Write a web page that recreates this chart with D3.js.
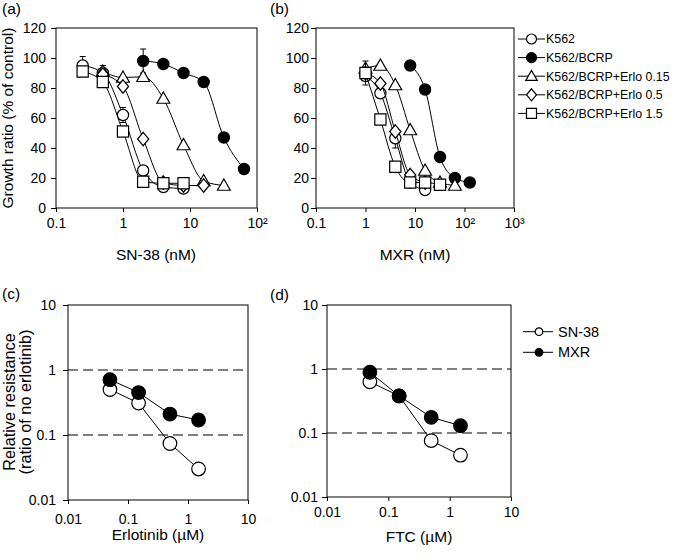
<!DOCTYPE html>
<html><head><meta charset="utf-8">
<script src="https://cdn.jsdelivr.net/npm/d3@7"></script>
<style>
body{margin:0;background:#fff}
text{font-family:"Liberation Sans",Arial,sans-serif;fill:#000}
</style></head>
<body><svg id="chart" width="675" height="560"></svg>
<script>
// ---------- DATA ----------
// Panel (a): SN-38 (nM)
const aTickValues = [0.1, 1, 10, 100];
const aTickLabels = ["0.1", "1", "10", "10²"];
const aK562X = [0.25, 0.5, 1, 2, 4, 8];
const aK562Y = [95, 90, 62, 25, 14, 13];
const aK562Err = [6, 0, 5, 0, 0, 0];
const aBcrpX = [2, 4, 8, 16, 32, 64];
const aBcrpY = [98, 96, 90, 84, 47, 26];
const aBcrpErr = [8, 0, 0, 0, 0, 0];
const aE015X = [0.5, 1, 2, 4, 8, 16, 32];
const aE015Y = [91, 87, 87.5, 73, 42, 18, 15];
const aE015Err = [4, 0, 0, 0, 0, 0, 0];
const aE05X = [0.5, 1, 2, 4, 8, 16];
const aE05Y = [89, 81, 46, 17, 15, 15];
const aE15X = [0.25, 0.5, 1, 2, 4, 8];
const aE15Y = [91, 84, 51, 17.5, 16.5, 16.5];

// Panel (b): MXR (nM)
const bTickValues = [0.1, 1, 10, 100, 1000];
const bTickLabels = ["0.1", "1", "10", "10²", "10³"];
const bK562X = [1, 2, 4, 8, 16];
const bK562Y = [88, 76.5, 46.5, 17, 12];
const bK562Err = [0, 0, 6.5, 0, 0];
const bBcrpX = [8, 16, 32, 64, 128];
const bBcrpY = [95, 79, 34, 20, 17];
const bE015X = [1, 2, 4, 8, 16, 32, 64];
const bE015Y = [93, 95, 82, 52, 25, 17, 15];
const bE05X = [1, 2, 4, 8, 16];
const bE05Y = [90, 83, 51, 22, 17];
const bE15X = [1, 2, 4, 8, 16, 32];
const bE15Y = [90, 59, 27.5, 17, 17, 15.5];
const bE15Err = [8, 0, 0, 0, 0, 0];

const growthTicks = [0, 20, 40, 60, 80, 100, 120];
const legendAB = ["K562", "K562/BCRP", "K562/BCRP+Erlo 0.15", "K562/BCRP+Erlo 0.5", "K562/BCRP+Erlo 1.5"];

// Panel (c): Erlotinib (µM)
const cErloX = [0.05, 0.15, 0.5, 1.5];
const cSN38 = [0.50, 0.31, 0.074, 0.030];
const cMXR = [0.71, 0.45, 0.21, 0.17];
// Panel (d): FTC (µM)
const dFtcX = [0.05, 0.15, 0.5, 1.5];
const dSN38 = [0.63, 0.38, 0.076, 0.045];
const dMXR = [0.89, 0.38, 0.176, 0.13];

const logTickValues = [0.01, 0.1, 1, 10];
const logTickLabels = ["0.01", "0.1", "1", "10"];
const refLines = [1, 0.1];
const legendCD = ["SN-38", "MXR"];

// ---------- DRAWING ----------
const svg = d3.select("#chart");

const shapes = {
  circle: s => `M${s},0A${s},${s} 0 1,1 ${-s},0A${s},${s} 0 1,1 ${s},0Z`,
  square: s => `M${-s},${-s}H${s}V${s}H${-s}Z`,
  triangle: s => `M0,${-s * 1.15}L${s * 1.15},${s * 0.85}L${-s * 1.15},${s * 0.85}Z`,
  diamond: s => `M0,${-s * 1.2}L${s},0L0,${s * 1.2}L${-s},0Z`
};

function makeAxes(g, x, y, xt, xl, yt, yl, xLabOff, yLabOff) {
  const ax = g.append("g").attr("transform", `translate(0,${y.range()[0]})`)
    .call(d3.axisBottom(x).tickValues(xt).tickFormat((d, i) => xl[i]).tickSize(4).tickSizeOuter(0));
  ax.select(".domain").remove();
  ax.selectAll(".tick line").attr("stroke", "#000");
  ax.selectAll(".tick text").attr("y", xLabOff).attr("dy", 0).style("font-size", "14px")
    .attr("font-family", null).attr("fill", "#000");
  const ay = g.append("g").attr("transform", `translate(${x.range()[0]},0)`)
    .call(d3.axisLeft(y).tickValues(yt).tickFormat((d, i) => yl[i]).tickSize(5).tickSizeOuter(0));
  ay.select(".domain").remove();
  ay.selectAll(".tick line").attr("stroke", "#000");
  ay.selectAll(".tick text").attr("x", -yLabOff).attr("dy", "0.34em").style("font-size", "14px")
    .attr("font-family", null).attr("fill", "#000");
  g.append("rect")
    .attr("x", x.range()[0]).attr("y", y.range()[1])
    .attr("width", x.range()[1] - x.range()[0]).attr("height", y.range()[0] - y.range()[1])
    .attr("fill", "none").attr("stroke", "#000").attr("stroke-width", 1);
}

function drawSeries(g, x, y, xs, ys, errs, shape, fill, size, curve) {
  const pts = xs.map((v, i) => [x(v), y(ys[i])]);
  g.append("path").attr("d", d3.line().curve(curve)(pts))
    .attr("fill", "none").attr("stroke", "#000").attr("stroke-width", 1);
  if (errs) {
    errs.forEach((e, i) => {
      if (!e) return;
      const cx = x(xs[i]), y1 = y(ys[i] + e), y2 = y(ys[i] - e);
      g.append("line").attr("x1", cx).attr("x2", cx).attr("y1", y1).attr("y2", y2).attr("stroke", "#000");
      g.append("line").attr("x1", cx - 3).attr("x2", cx + 3).attr("y1", y1).attr("y2", y1).attr("stroke", "#000");
      g.append("line").attr("x1", cx - 3).attr("x2", cx + 3).attr("y1", y2).attr("y2", y2).attr("stroke", "#000");
    });
  }
  g.selectAll(null).data(pts).enter().append("path")
    .attr("transform", d => `translate(${d[0]},${d[1]})`)
    .attr("d", shapes[shape](size))
    .attr("fill", fill).attr("stroke", "#000").attr("stroke-width", 1.2);
}

function label(txt, x, y, size, anchor) {
  return svg.append("text").attr("x", x).attr("y", y).style("font-size", size + "px")
    .attr("text-anchor", anchor || "start").text(txt);
}

const smooth = d3.curveMonotoneX;
const S = 5.6;

// Panel (a)
{
  const g = svg.append("g");
  const x = d3.scaleLog().domain([0.1, 100]).range([56, 257]);
  const y = d3.scaleLinear().domain([0, 120]).range([208, 28]);
  makeAxes(g, x, y, aTickValues, aTickLabels, growthTicks, growthTicks.map(String), 20, 10);
  drawSeries(g, x, y, aK562X, aK562Y, aK562Err, "circle", "#fff", S, smooth);
  drawSeries(g, x, y, aBcrpX, aBcrpY, aBcrpErr, "circle", "#000", S, smooth);
  drawSeries(g, x, y, aE015X, aE015Y, aE015Err, "triangle", "#fff", S, smooth);
  drawSeries(g, x, y, aE05X, aE05Y, null, "diamond", "#fff", S, smooth);
  drawSeries(g, x, y, aE15X, aE15Y, null, "square", "#fff", S, smooth);
  label("(a)", 2, 14, 15.5);
  label("SN-38 (nM)", 156, 260, 15.5, "middle");
  svg.append("text").attr("transform", "translate(12.5,118) rotate(-90)")
    .attr("text-anchor", "middle").style("font-size", "15.5px").text("Growth ratio (% of control)");
}

// Panel (b)
{
  const g = svg.append("g");
  const x = d3.scaleLog().domain([0.1, 1000]).range([316, 514]);
  const y = d3.scaleLinear().domain([0, 120]).range([208, 28]);
  makeAxes(g, x, y, bTickValues, bTickLabels, growthTicks, growthTicks.map(String), 20, 7);
  drawSeries(g, x, y, bK562X, bK562Y, bK562Err, "circle", "#fff", S, smooth);
  drawSeries(g, x, y, bBcrpX, bBcrpY, null, "circle", "#000", S, smooth);
  drawSeries(g, x, y, bE015X, bE015Y, null, "triangle", "#fff", S, smooth);
  drawSeries(g, x, y, bE05X, bE05Y, null, "diamond", "#fff", S, smooth);
  drawSeries(g, x, y, bE15X, bE15Y, bE15Err, "square", "#fff", S, smooth);
  label("(b)", 270, 14, 15.5);
  label("MXR (nM)", 415, 260, 15.5, "middle");

  // legend
  const shapesAB = ["circle", "circle", "triangle", "diamond", "square"];
  const fillsAB = ["#fff", "#000", "#fff", "#fff", "#fff"];
  const lg = svg.append("g");
  legendAB.forEach((t, i) => {
    const yy = 39 + i * 18.6;
    lg.append("line").attr("x1", 518).attr("x2", 545).attr("y1", yy).attr("y2", yy).attr("stroke", "#000");
    lg.append("path").attr("transform", `translate(531.5,${yy})`).attr("d", shapes[shapesAB[i]](5))
      .attr("fill", fillsAB[i]).attr("stroke", "#000").attr("stroke-width", 1.2);
    lg.append("text").attr("x", 546).attr("y", yy).attr("dy", "0.35em").style("font-size", "12.4px").text(t);
  });
}

// Panel (c)
{
  const g = svg.append("g");
  const x = d3.scaleLog().domain([0.01, 10]).range([68, 248]);
  const y = d3.scaleLog().domain([0.01, 10]).range([500, 305]);
  refLines.forEach(v => g.append("line").attr("x1", 68).attr("x2", 248).attr("y1", y(v)).attr("y2", y(v))
    .attr("stroke", "#000").attr("stroke-dasharray", "10,5"));
  makeAxes(g, x, y, logTickValues, logTickLabels, logTickValues, logTickLabels, 24, 12);
  drawSeries(g, x, y, cErloX, cSN38, null, "circle", "#fff", 6.8, d3.curveLinear);
  drawSeries(g, x, y, cErloX, cMXR, null, "circle", "#000", 6.8, d3.curveLinear);
  label("(c)", 2, 299, 15.5);
  label("Erlotinib (\u00b5M)", 158, 540, 15.5, "middle");
  svg.append("text").attr("transform", "translate(15,402) rotate(-90)")
    .attr("text-anchor", "middle").style("font-size", "16.3px").text("Relative resistance");
  svg.append("text").attr("transform", "translate(31,402) rotate(-90)")
    .attr("text-anchor", "middle").style("font-size", "16.3px").text("(ratio of no erlotinib)");
}

// Panel (d)
{
  const g = svg.append("g");
  const x = d3.scaleLog().domain([0.01, 10]).range([327, 511]);
  const y = d3.scaleLog().domain([0.01, 10]).range([497, 305]);
  refLines.forEach(v => g.append("line").attr("x1", 327).attr("x2", 511).attr("y1", y(v)).attr("y2", y(v))
    .attr("stroke", "#000").attr("stroke-dasharray", "10,5"));
  makeAxes(g, x, y, logTickValues, logTickLabels, logTickValues, logTickLabels, 20, 9);
  drawSeries(g, x, y, dFtcX, dSN38, null, "circle", "#fff", 6.8, d3.curveLinear);
  drawSeries(g, x, y, dFtcX, dMXR, null, "circle", "#000", 6.8, d3.curveLinear);
  label("(d)", 270, 300, 15.5);
  label("FTC (\u00b5M)", 419, 542, 15.5, "middle");

  const fillsCD = ["#fff", "#000"];
  legendCD.forEach((t, i) => {
    const yy = 331.7 + i * 20.6;
    svg.append("line").attr("x1", 523).attr("x2", 553).attr("y1", yy).attr("y2", yy).attr("stroke", "#000");
    svg.append("path").attr("transform", `translate(539,${yy})`).attr("d", shapes.circle(3.8))
      .attr("fill", fillsCD[i]).attr("stroke", "#000").attr("stroke-width", 1.2);
    svg.append("text").attr("x", 558).attr("y", yy).attr("dy", "0.35em").style("font-size", "14.5px").text(t);
  });
}
</script>
</body></html>
